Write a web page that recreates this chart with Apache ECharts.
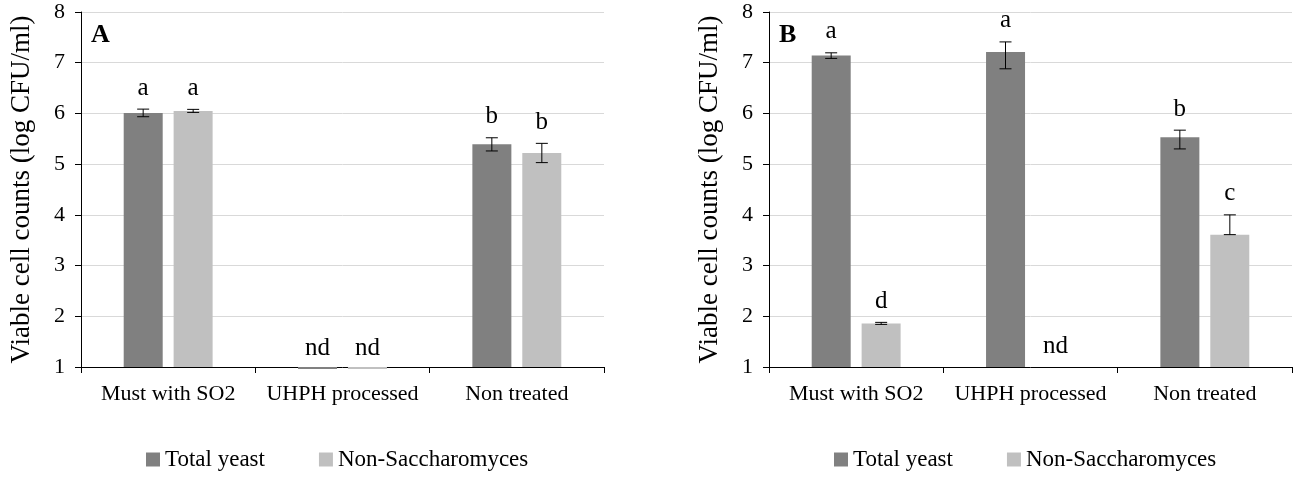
<!doctype html>
<html>
<head>
<meta charset="utf-8">
<title>Viable cell counts</title>
<style>
  html, body { margin: 0; padding: 0; background: #fff; }
  #main { width: 1302px; height: 479px; }
</style>
</head>
<body>
<div id="main"></div>
<script src="https://cdn.jsdelivr.net/npm/echarts@6/dist/echarts.min.js"></script>
<script>
// data
var categories = ['Must with SO2', 'UHPH processed', 'Non treated'];
var seriesNames = ['Total yeast', 'Non-Saccharomyces'];

// panel A
var totalA = [6.01, 0.96, 5.39];
var totalAErrUp = [0.075, 0, 0.13];
var totalAErrDown = [0.075, 0, 0.13];
var totalALetters = ['a', 'nd', 'b'];
var nonSaccA = [6.05, 0.96, 5.22];
var nonSaccAErrUp = [0.03, 0, 0.19];
var nonSaccAErrDown = [0.03, 0, 0.19];
var nonSaccALetters = ['a', 'nd', 'b'];

// panel B
var totalB = [7.14, 7.21, 5.53];
var totalBErrUp = [0.055, 0.2, 0.14];
var totalBErrDown = [0.055, 0.33, 0.23];
var totalBLetters = ['a', 'a', 'b'];
var nonSaccB = [1.86, null, 3.61];
var nonSaccBErrUp = [0.02, 0, 0.39];
var nonSaccBErrDown = [0.02, 0, 0];
var nonSaccBLetters = ['d', 'nd', 'c'];

var yTitle = 'Viable cell counts (log CFU/ml)';
var font = '"Liberation Serif", "Times New Roman", serif';
var darkGrey = '#808080';
var lightGrey = '#c0c0c0';

var myChart = echarts.init(document.getElementById('main'));

// error bar + significance letter, drawn through the axes
function errorSeries(gi, values, up, down, letters, shift) {
    return {
        type: 'custom',
        xAxisIndex: gi,
        yAxisIndex: gi,
        silent: true,
        clip: false,
        z: 5,
        data: values.map(function (v, i) { return [i, v == null ? 1 : v]; }),
        renderItem: function (params, api) {
            var i = params.dataIndex;
            var v = api.value(1);
            var x = api.coord([i, v])[0] + shift;
            var kids = [];
            if (up[i] || down[i]) {
                var yt = api.coord([i, v + up[i]])[1];
                var yb = api.coord([i, v - down[i]])[1];
                var st = { stroke: '#000', lineWidth: 1 };
                kids.push({ type: 'line', shape: { x1: x, y1: yt, x2: x, y2: yb }, style: st });
                kids.push({ type: 'line', shape: { x1: x - 6, y1: yt, x2: x + 6, y2: yt }, style: st });
                kids.push({ type: 'line', shape: { x1: x - 6, y1: yb, x2: x + 6, y2: yb }, style: st });
            }
            var top = api.coord([i, v + up[i]])[1];
            kids.push({
                type: 'text',
                style: {
                    text: letters[i], x: x, y: top - 21,
                    align: 'center', verticalAlign: 'middle',
                    fontSize: 25, fontFamily: font, fill: '#000'
                }
            });
            return { type: 'group', children: kids };
        }
    };
}

function barSeries(gi, name, values, color) {
    return {
        type: 'bar',
        name: name,
        xAxisIndex: gi,
        yAxisIndex: gi,
        data: values,
        barWidth: 39,
        barGap: '28%',
        clip: false,
        itemStyle: { color: color }
    };
}

function xAx(gi) {
    return {
        type: 'category',
        gridIndex: gi,
        data: categories,
        axisLine: { lineStyle: { color: '#000', width: 1 } },
        axisTick: { show: true, length: 6, lineStyle: { color: '#000' } },
        axisLabel: { color: '#000', fontSize: 22, fontFamily: font, margin: 16, interval: 0 }
    };
}

function yAx(gi) {
    return {
        type: 'value',
        gridIndex: gi,
        min: 1,
        max: 8,
        interval: 1,
        startValue: 1,
        name: yTitle,
        nameLocation: 'middle',
        nameGap: 46,
        nameTextStyle: { color: '#000', fontSize: 27, fontFamily: font },
        axisLine: { show: true, lineStyle: { color: '#000', width: 1 } },
        axisTick: { show: true, length: 6, lineStyle: { color: '#000' } },
        axisLabel: { color: '#000', fontSize: 22, fontFamily: font, margin: 16 },
        splitLine: { lineStyle: { color: '#d9d9d9', width: 1 } }
    };
}

function legendAt(left) {
    return {
        left: left,
        top: 448,
        padding: 0,
        itemWidth: 14,
        itemHeight: 14,
        itemGap: 54,
        selectedMode: false,
        textStyle: { color: '#000', fontSize: 23, fontFamily: font },
        data: [
            { name: seriesNames[0], icon: 'rect' },
            { name: seriesNames[1], icon: 'rect' }
        ]
    };
}

var option = {
    animation: false,
    textStyle: { fontFamily: font },
    title: [
        { text: 'A', left: 91, top: 22, padding: 0,
          textStyle: { color: '#000', fontSize: 26, fontWeight: 'bold', fontFamily: font } },
        { text: 'B', left: 779, top: 22, padding: 0,
          textStyle: { color: '#000', fontSize: 26, fontWeight: 'bold', fontFamily: font } }
    ],
    legend: [legendAt(146), legendAt(834)],
    grid: [
        { left: 81, top: 12, width: 523, height: 355 },
        { left: 769, top: 12, width: 523, height: 355 }
    ],
    xAxis: [xAx(0), xAx(1)],
    yAxis: [yAx(0), yAx(1)],
    series: [
        barSeries(0, seriesNames[0], totalA, darkGrey),
        barSeries(0, seriesNames[1], nonSaccA, lightGrey),
        barSeries(1, seriesNames[0], totalB, darkGrey),
        barSeries(1, seriesNames[1], nonSaccB, lightGrey),
        errorSeries(0, totalA, totalAErrUp, totalAErrDown, totalALetters, -25),
        errorSeries(0, nonSaccA, nonSaccAErrUp, nonSaccAErrDown, nonSaccALetters, 25),
        errorSeries(1, totalB, totalBErrUp, totalBErrDown, totalBLetters, -25),
        errorSeries(1, nonSaccB, nonSaccBErrUp, nonSaccBErrDown, nonSaccBLetters, 25)
    ]
};

myChart.setOption(option);
</script>
</body>
</html>
